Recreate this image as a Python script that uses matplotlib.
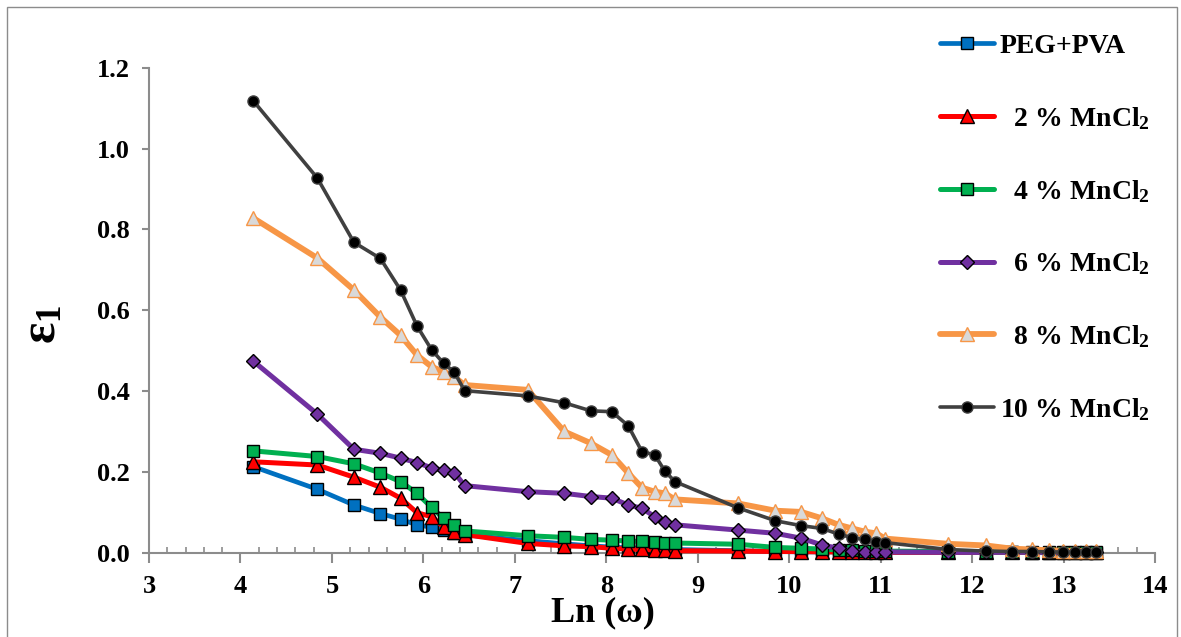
import matplotlib
matplotlib.use("Agg")
import matplotlib.pyplot as plt
from matplotlib.patches import Rectangle

# Ln(omega) values shared by all series
ln_w = [4.14, 4.84, 5.24, 5.53, 5.75, 5.93, 6.09, 6.22, 6.34, 6.45,
        7.14, 7.54, 7.83, 8.06, 8.24, 8.39, 8.53, 8.64, 8.75,
        9.44, 9.85, 10.13, 10.36, 10.54, 10.69, 10.83, 10.95, 11.05,
        11.74, 12.15, 12.44, 12.66, 12.84, 12.99, 13.13, 13.25, 13.35]

peg_pva = [0.213, 0.157, 0.118, 0.097, 0.083, 0.069, 0.063, 0.055, 0.050, 0.044,
           0.030, 0.022, 0.017, 0.014, 0.012, 0.011, 0.010, 0.009, 0.008,
           0.005, 0.003, 0.002, 0.002, 0.002, 0.001, 0.001, 0.001, 0.001,
           0.001, 0.001, 0.001, 0.000, 0.000, 0.000, 0.000, 0.000, 0.000]
mn2 = [0.225, 0.217, 0.187, 0.162, 0.135, 0.099, 0.089, 0.064, 0.052, 0.045,
       0.023, 0.017, 0.015, 0.011, 0.009, 0.008, 0.007, 0.006, 0.005,
       0.004, 0.003, 0.003, 0.002, 0.002, 0.002, 0.002, 0.001, 0.001,
       0.001, 0.001, 0.001, 0.001, 0.001, 0.001, 0.001, 0.001, 0.001]
mn4 = [0.252, 0.238, 0.220, 0.197, 0.176, 0.147, 0.112, 0.085, 0.069, 0.054,
       0.042, 0.038, 0.033, 0.031, 0.029, 0.028, 0.026, 0.025, 0.024,
       0.021, 0.013, 0.011, 0.009, 0.007, 0.006, 0.005, 0.005, 0.004,
       0.003, 0.002, 0.002, 0.002, 0.001, 0.001, 0.001, 0.001, 0.001]
mn6 = [0.474, 0.343, 0.256, 0.246, 0.234, 0.223, 0.210, 0.204, 0.198, 0.166,
       0.151, 0.147, 0.139, 0.135, 0.118, 0.110, 0.089, 0.077, 0.069,
       0.056, 0.048, 0.036, 0.019, 0.011, 0.004, 0.003, 0.002, 0.002,
       0.001, 0.001, 0.001, 0.001, 0.001, 0.001, 0.001, 0.001, 0.001]
mn8 = [0.828, 0.729, 0.650, 0.583, 0.538, 0.489, 0.460, 0.448, 0.435, 0.415,
       0.403, 0.300, 0.271, 0.242, 0.197, 0.161, 0.151, 0.147, 0.132,
       0.122, 0.104, 0.101, 0.085, 0.069, 0.060, 0.052, 0.048, 0.035,
       0.022, 0.018, 0.010, 0.008, 0.006, 0.005, 0.005, 0.004, 0.004]
mn10 = [1.118, 0.927, 0.768, 0.728, 0.650, 0.561, 0.502, 0.469, 0.446, 0.401,
        0.388, 0.371, 0.351, 0.349, 0.314, 0.250, 0.242, 0.202, 0.176,
        0.111, 0.079, 0.067, 0.060, 0.046, 0.037, 0.033, 0.027, 0.025,
        0.008, 0.004, 0.003, 0.003, 0.002, 0.002, 0.002, 0.002, 0.002]

labels = ["PEG+PVA", "  2 % MnCl$_2$", "  4 % MnCl$_2$", "  6 % MnCl$_2$",
          "  8 % MnCl$_2$", "10 % MnCl$_2$"]


def main():
    plt.rcParams["font.family"] = ["Liberation Serif", "DejaVu Serif"]
    plt.rcParams["font.weight"] = "bold"
    plt.rcParams["mathtext.default"] = "regular"

    fig = plt.figure(figsize=(11.81, 6.37), dpi=100)
    ax = fig.add_axes([0.1262, 0.1323, 0.8518, 0.7614])

    # series: data, line colour, width, marker, face, edge, size
    styles = [
        (peg_pva, "#0070C0", 3.4, "s", "#0070C0", "black", 8),
        (mn2, "#FF0000", 3.6, "^", "#FF0000", "black", 9.5),
        (mn4, "#00B050", 3.6, "s", "#00B050", "black", 8),
        (mn6, "#7030A0", 3.6, "D", "#7030A0", "black", 7),
        (mn8, "#F79646", 4.2, "^", "#D9D9D9", "#F79646", 10),
        (mn10, "#404040", 2.6, "o", "black", "#404040", 8),
    ]

    for i, (vals, col, lw, mk, fc, ec, ms) in enumerate(styles):
        ax.plot(ln_w, vals, color=col, lw=lw, marker=mk, mfc=fc, mec=ec,
                mew=1.0, ms=ms, label=labels[i], clip_on=False,
                solid_joinstyle="round", solid_capstyle="round", zorder=3 + i)

    ax.set_xlim(3, 14)
    ax.set_ylim(0, 1.2)
    ax.set_xticks(range(3, 15))
    ax.set_xticks([3 + 0.2 * k for k in range(56)], minor=True)
    ax.set_yticks([0, 0.2, 0.4, 0.6, 0.8, 1.0, 1.2])
    ax.set_yticklabels(["0.0", "0.2", "0.4", "0.6", "0.8", "1.0", "1.2"])

    for s in ["top", "right"]:
        ax.spines[s].set_visible(False)
    for s in ["left", "bottom"]:
        ax.spines[s].set_color("#8C8C8C")
        ax.spines[s].set_linewidth(1.5)

    ax.tick_params(axis="x", which="major", direction="out", length=7,
                   width=1.5, color="#8C8C8C", labelsize=19, pad=9)
    ax.tick_params(axis="x", which="minor", direction="in", length=4.5,
                   width=1.2, color="#8C8C8C")
    ax.tick_params(axis="y", which="major", direction="out", length=5,
                   width=1.5, color="#8C8C8C", labelsize=19, pad=9)
    for t in ax.get_xticklabels() + ax.get_yticklabels():
        t.set_fontweight("bold")

    ax.set_xlabel("Ln (ω)", fontsize=26, fontweight="bold")
    ax.xaxis.set_label_coords(0.451, -0.09)
    ax.set_ylabel("ε$_1$", fontsize=36, fontweight="bold")
    ax.yaxis.set_label_coords(-0.082, 0.47)

    ax.legend(loc="upper left", bbox_to_anchor=(0.796, 0.947),
              bbox_transform=fig.transFigure, frameon=False,
              handlelength=1.95, handletextpad=0.2, labelspacing=1.65,
              borderpad=0, borderaxespad=0, prop={"weight": "bold", "size": 20})

    # thin frame round the whole chart
    fig.patches.append(Rectangle((0.006, -0.01), 0.991, 0.999, transform=fig.transFigure,
                                 fill=False, ec="#8C8C8C", lw=1.0))

    fig.savefig("out.png", dpi=100)


if __name__ == "__main__":
    main()
